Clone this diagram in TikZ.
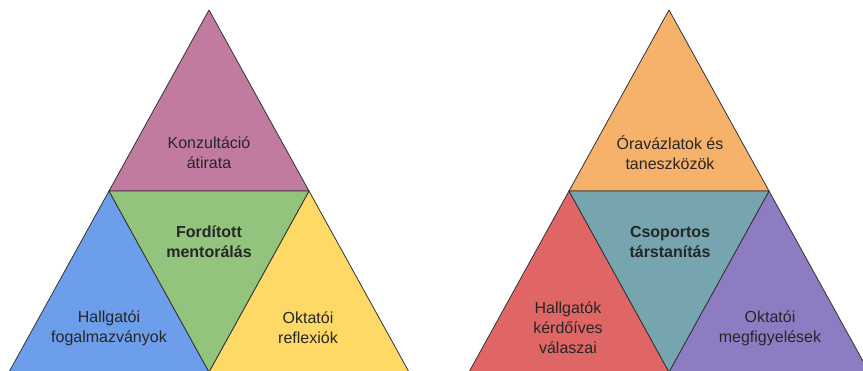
\documentclass[tikz,border=0pt]{standalone}
\usepackage{fontspec}
\setmainfont{Liberation Sans}
\usetikzlibrary{positioning}

\definecolor{konzpink}{HTML}{C27BA0}
\definecolor{mentgreen}{HTML}{93C47D}
\definecolor{hallblue}{HTML}{6D9EEB}
\definecolor{oktyellow}{HTML}{FFD966}
\definecolor{oraorange}{HTML}{F6B26B}
\definecolor{csopteal}{HTML}{76A5AF}
\definecolor{kerdred}{HTML}{E06666}
\definecolor{megfpurple}{HTML}{8E7CC3}

\begin{document}
\begin{tikzpicture}[x=1pt,y=-1pt,
    part/.style={draw=black!80,line width=0.8pt,line join=round},
    txt/.style={align=center,text=black!85,font=\fontsize{16}{20}\selectfont},
    txtb/.style={txt,font=\fontsize{16}{20}\selectfont\bfseries}]
        \useasboundingbox (0,0) rectangle (863,370);
        % left triangle
        \coordinate (l_top) at (209,10);
        \coordinate (l_left) at (9,372);
        \coordinate (l_right) at (409,372);
        \coordinate (l_ml) at (109,191);
        \coordinate (l_mr) at (309,191);
        \coordinate (l_mb) at (209,372);
        \filldraw[part,fill=konzpink] (l_top) -- (l_ml) -- (l_mr) -- cycle;
        \filldraw[part,fill=hallblue] (l_ml) -- (l_left) -- (l_mb) -- cycle;
        \filldraw[part,fill=oktyellow] (l_mr) -- (l_mb) -- (l_right) -- cycle;
        \filldraw[part,fill=mentgreen] (l_ml) -- (l_mr) -- (l_mb) -- cycle;
        \node[txt] (konz) at (209,153) {Konzultáció\\átirata};
        \node[txtb] (ment) at (209,242) {Fordított\\mentorálás};
        \node[txt] (hall) at (109,328) {Hallgatói\\fogalmazványok};
        \node[txt] (refl) at (308,328) {Oktatói\\reflexiók};
        % right triangle
        \coordinate (r_top) at (669,10);
        \coordinate (r_left) at (469,372);
        \coordinate (r_right) at (869,372);
        \coordinate (r_ml) at (569,191);
        \coordinate (r_mr) at (769,191);
        \coordinate (r_mb) at (669,372);
        \filldraw[part,fill=oraorange] (r_top) -- (r_ml) -- (r_mr) -- cycle;
        \filldraw[part,fill=kerdred] (r_ml) -- (r_left) -- (r_mb) -- cycle;
        \filldraw[part,fill=megfpurple] (r_mr) -- (r_mb) -- (r_right) -- cycle;
        \filldraw[part,fill=csopteal] (r_ml) -- (r_mr) -- (r_mb) -- cycle;
        \node[txt] (oravaz) at (670,153) {Óravázlatok és\\taneszközök};
        \node[txtb] (csop) at (670,242) {Csoportos\\társtanítás};
        \node[txt] (kerd) at (568,328) {Hallgatók\\kérdőíves\\válaszai};
        \node[txt] (megf) at (770,328) {Oktatói\\megfigyelések};
\end{tikzpicture}
\end{document}
